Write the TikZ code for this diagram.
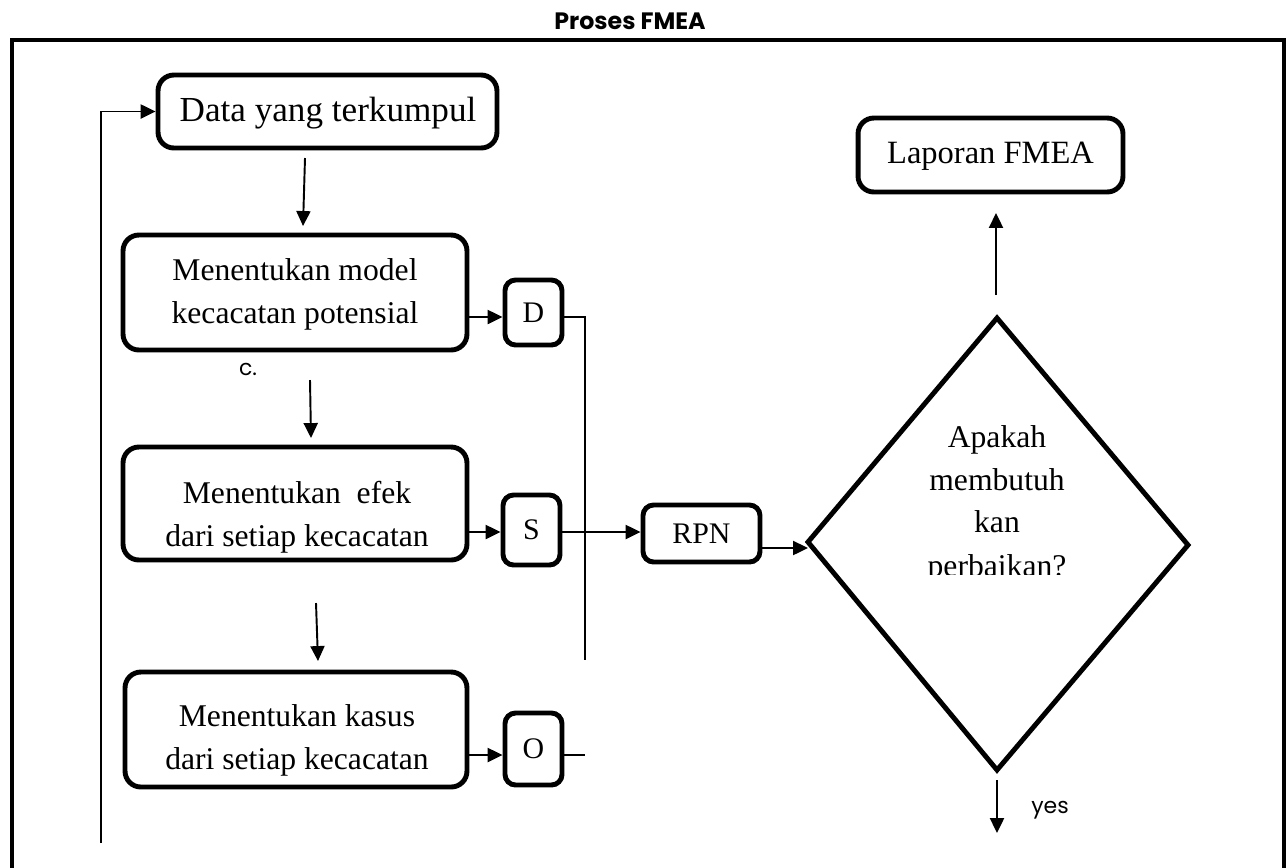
\documentclass[tikz,border=0pt]{standalone}
\usepackage{fontspec}
\setmainfont{Liberation Serif}
\newfontfamily\gothic{Poppins}
\usetikzlibrary{arrows.meta}
\tikzset{
  box/.style={draw, line width=2.8pt, rounded corners=9pt, inner sep=0pt},
  smallbox/.style={draw, line width=2.8pt, rounded corners=6pt, inner sep=0pt, minimum width=1.14cm, font=\fontsize{17}{24}\selectfont},
  txt/.style={align=center, inner sep=0pt, font=\fontsize{18}{24.4}\selectfont},
  sans/.style={inner sep=0pt, font=\gothic\fontsize{12.5}{14}\selectfont},
  conn/.style={line width=1.1pt},
  arr/.style={conn, -{Triangle[length=8.5pt,width=8pt]}},
}
\begin{document}
\begin{tikzpicture}[x=0.02cm, y=-0.02cm]
\useasboundingbox (0,0) rectangle (1287,867);
\clip (0,0) rectangle (1287,867);

% title and frame
\node[font=\gothic\bfseries\fontsize{13.5}{15}\selectfont, inner sep=0pt] (title) at (630,21) {Proses FMEA};
\draw[line width=2.8pt, line join=miter] (12,900) -- (12,40) -- (1284,40) -- (1284,900);

% left column boxes
\node[box, minimum width=6.78cm, minimum height=1.46cm] (data) at (327.5,111.5) {};
\node[txt, font=\fontsize{20}{24}\selectfont] (datat) at (328,113) {Data yang terkumpul};

\node[box, minimum width=6.88cm, minimum height=2.3cm] (m1) at (295,292.5) {};
\node[txt] (m1t) at (295,294) {Menentukan model\\kecacatan potensial};

\node[box, minimum width=6.88cm, minimum height=2.26cm] (m2) at (295,503.5) {};
\node[txt] (m2t) at (297,517) {Menentukan\ \ efek\\dari setiap kecacatan};

\node[box, minimum width=6.84cm, minimum height=2.3cm] (m3) at (296,729.5) {};
\node[txt] (m3t) at (297,740) {Menentukan kasus\\dari setiap kecacatan};

% small boxes
\node[smallbox, minimum height=1.3cm] (D) at (533.5,312.5) {D};
\node[smallbox, minimum height=1.4cm] (S) at (531.5,530) {S};
\node[smallbox, minimum height=1.44cm] (O) at (533.5,749) {O};
\node[smallbox, minimum width=2.34cm, minimum height=1.14cm] (RPN) at (701.5,533.5) {RPN};

\node[box, minimum width=5.3cm, minimum height=1.48cm] (lap) at (990.5,155) {};
\node[txt, font=\fontsize{18.5}{24}\selectfont] (lapt) at (990.5,156) {Laporan FMEA};

% diamond
\coordinate (dt) at (997,318);
\coordinate (dl) at (808,542);
\coordinate (dr) at (1188,545);
\coordinate (db) at (997,770);
\draw[line width=2.8pt, line join=miter] (dt) -- (dr) -- (db) -- (dl) -- cycle;
\begin{scope}
\clip (820,380) rectangle (1180,574);
\node[txt, anchor=base] (q1) at (997,447) {Apakah};
\node[txt, anchor=base] (q2) at (997,490) {membutuh};
\node[txt, anchor=base] (q3) at (997,532) {kan};
\node[txt, anchor=base] (q4) at (997,576) {perbaikan?};
\end{scope}

% labels
\node[sans] (c) at (248,369) {c.};
\node[sans] (yes) at (1050,810) {yes};

% connectors
\coordinate (loopb) at (101,843);
\draw[arr] (loopb) |- (data.west);

\coordinate (a1s) at (305,158); \coordinate (a1e) at (303,226);
\draw[arr] (a1s) -- (a1e);
\coordinate (a2s) at (310,380); \coordinate (a2e) at (311,438);
\draw[arr] (a2s) -- (a2e);
\coordinate (a3s) at (316,603); \coordinate (a3e) at (318,661);
\draw[arr] (a3s) -- (a3e);

\draw[arr] (m1.east |- 0,317) -- (D.west |- 0,317);
\coordinate (dv) at (585,660);
\draw[conn] (D.east |- 0,317) -| (dv);

\draw[arr] (m2.east |- 0,532) -- (S.west |- 0,532);
\draw[arr] (S.east |- 0,532) -- (RPN.west |- 0,532);

\draw[arr] (m3.east |- 0,755) -- (O.west |- 0,755);
\coordinate (oe) at (585,755);
\draw[conn] (O.east |- 0,755) -- (oe);

\coordinate (rpnend) at (808,548);
\draw[arr] (RPN.east |- 0,548) -- (rpnend);

\coordinate (ups) at (996,295); \coordinate (upe) at (996,213);
\draw[arr] (ups) -- (upe);

\coordinate (yess) at (997,780); \coordinate (yese) at (997,833);
\draw[arr] (yess) -- (yese);
\end{tikzpicture}
\end{document}
